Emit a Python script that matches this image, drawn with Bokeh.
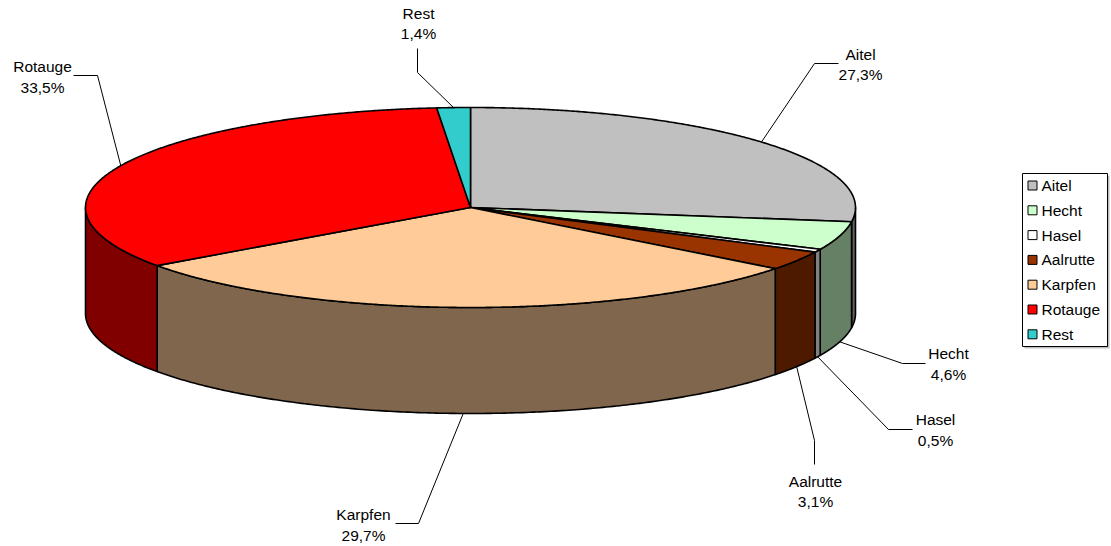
import numpy as np
from bokeh.plotting import figure
from bokeh.models import Range1d
from bokeh.core.properties import value
from bokeh.embed import file_html
from bokeh.resources import INLINE

# ---------------- data ----------------
categories = ["Aitel", "Hecht", "Hasel", "Aalrutte", "Karpfen", "Rotauge", "Rest"]
shares = [27.3, 4.6, 0.5, 3.1, 29.7, 33.5, 1.4]
top_colors = ["#C0C0C0", "#CCFFCC", "#FFFFFF", "#993300", "#FFCC99", "#FF0000", "#33CCCC"]
side_colors = ["#606060", "#668066", "#808080", "#4D1A00", "#80664D", "#800000", "#1A6666"]

# ---------------- layout ----------------
W, H = 1111, 546
CX, CY, A, B, DEPTH = 470.0, 207.0, 385.0, 100.0, 106.0
FONT = value("Liberation Sans")
FS = "15.5px"

# label layout: (text x, name y, pct y, elbow polyline points before anchor)
label_layout = {
    "Aitel":    (860, 54, 74, [(838, 63), (814, 63)]),
    "Hecht":    (948, 353, 374, [(925, 363), (902, 363)]),
    "Hasel":    (935, 419, 440, [(912, 429), (888, 429)]),
    "Aalrutte": (815, 481, 501, [(814, 464), (814, 440)]),
    "Karpfen":  (363, 514, 535, [(395, 523), (418, 523)]),
    "Rotauge":  (42, 66, 87, [(73, 75), (97, 75)]),
    "Rest":     (418, 13, 33, [(417, 48), (417, 72)]),
}

p = figure(width=W, height=H, output_backend="svg", toolbar_location=None,
           x_range=Range1d(0, W), y_range=Range1d(H, 0),
           x_axis_location=None, y_axis_location=None, min_border=0)
p.grid.visible = False
p.outline_line_color = None
p.background_fill_color = "white"
p.border_fill_color = "white"

vals = np.array(shares, dtype=float)
cum = np.concatenate([[0.0], np.cumsum(vals)]) / vals.sum() * 360.0
starts, ends = cum[:-1], cum[1:]


def ex(t):
    return CX + A * np.sin(np.radians(t))


def ey(t):
    return CY - B * np.cos(np.radians(t))


# side walls (front half: 90..270 degrees)
sx, sy, sc = [], [], []
for s, e, c in zip(starts, ends, side_colors):
    t0, t1 = max(s, 90.0), min(e, 270.0)
    if t1 > t0:
        t = np.linspace(t0, t1, 200)
        xs = list(ex(t)) + list(ex(t[::-1]))
        ys = list(ey(t)) + list(ey(t[::-1]) + DEPTH)
        sx.append(xs); sy.append(ys); sc.append(c)
p.patches(sx, sy, fill_color=sc, line_color="black", line_width=1.6, line_join="round")

# top faces
tx, ty = [], []
for s, e in zip(starts, ends):
    n = max(int((e - s) * 3), 4)
    t = np.linspace(s, e, n)
    tx.append([CX] + list(ex(t)))
    ty.append([CY] + list(ey(t)))
p.patches(tx, ty, fill_color=top_colors, line_color="black", line_width=1.6, line_join="round")

# leader lines and labels
lx, ly = [], []
for cat, v, s, e in zip(categories, vals, starts, ends):
    m = (s + e) / 2.0
    axp, ayp = ex(m), ey(m)
    if 90.0 < m < 270.0:
        ayp += DEPTH
    txp, ny, py, elbow = label_layout[cat]
    pts = elbow + [(axp, ayp)]
    lx.append([q[0] for q in pts]); ly.append([q[1] for q in pts])
    p.text(x=[txp], y=[ny], text=[cat], text_font=FONT, text_font_size=FS,
           text_align="center", text_baseline="middle", text_color="black")
    pct = f"{v:.1f}".replace(".", ",") + "%"
    p.text(x=[txp], y=[py], text=[pct], text_font=FONT, text_font_size=FS,
           text_align="center", text_baseline="middle", text_color="black")
p.multi_line(lx, ly, line_color="black", line_width=1)

# legend
LX0, LY0, LX1, LY1 = 1022, 173, 1107, 346
p.quad(left=[LX0 + 2], right=[LX1 + 2], top=[LY0 + 2], bottom=[LY1 + 2],
       fill_color="#BFBFBF", line_color=None)
p.quad(left=[LX0], right=[LX1], top=[LY0], bottom=[LY1],
       fill_color="white", line_color="black", line_width=1)
row_y = [LY0 + 12 + i * 24.8 for i in range(len(categories))]
p.rect(x=[1032] * len(categories), y=row_y, width=9, height=9,
       fill_color=top_colors, line_color="black", line_width=1)
p.text(x=[1041] * len(categories), y=row_y, text=categories, text_font=FONT,
       text_font_size=FS, text_align="left", text_baseline="middle", text_color="black")

open("out.html", "w").write(file_html(p, INLINE))
